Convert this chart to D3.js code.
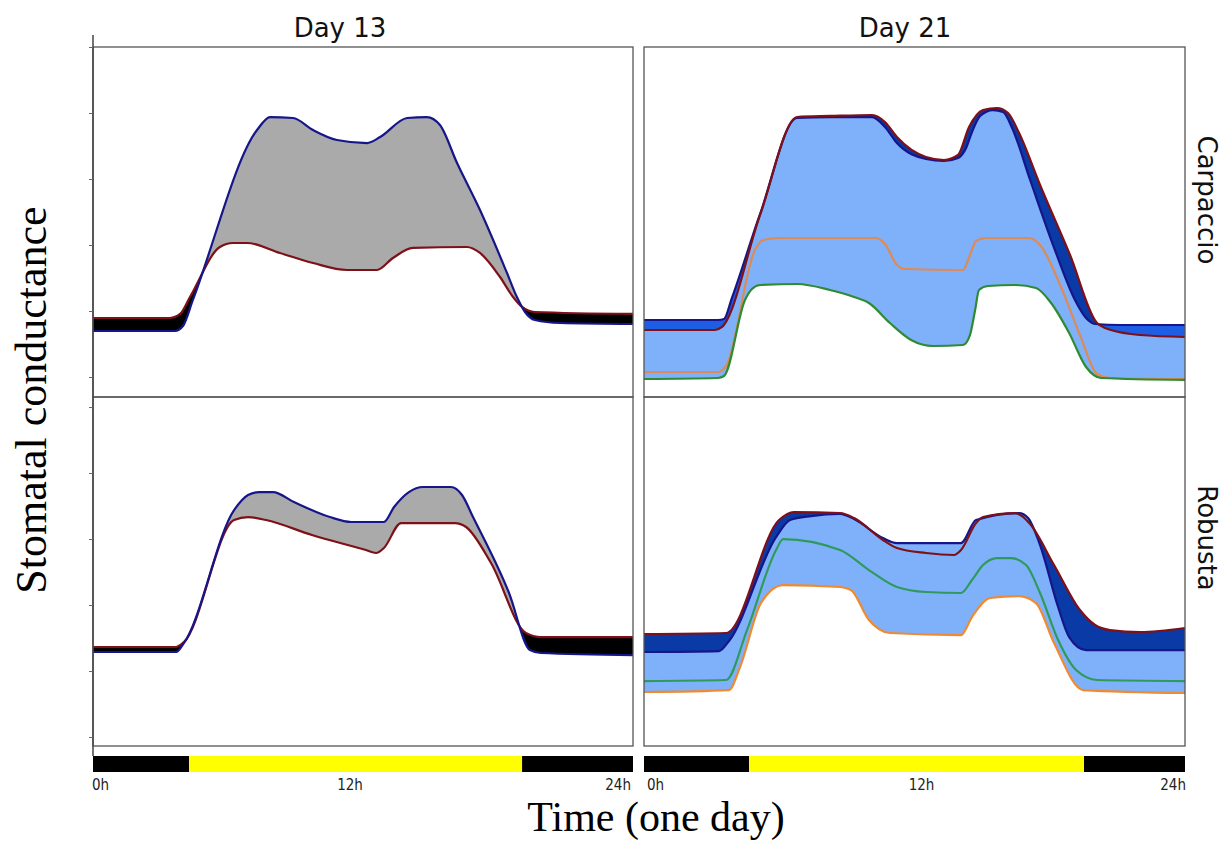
<!DOCTYPE html>
<html><head><meta charset="utf-8">
<script src="https://cdn.jsdelivr.net/npm/d3@7"></script>
<style>body{margin:0;background:#fff}svg{display:block}</style>
</head><body>
<svg id="c" width="1230" height="842"></svg>
<script>
// ---------------- data ----------------
const days = ["Day 13", "Day 21"];
const cultivars = ["Carpaccio", "Robusta"];
const hourTicks = [0, 12, 24];
const hourLabels = ["0h", "12h", "24h"];
const lightsOn = [4.27, 4.66];    // hour lights switch on (Day 13, Day 21)
const lightsOff = [19.07, 19.52]; // hour lights switch off
const yTicks = [0, 10, 20, 30, 40, 50];

// Day 13, Carpaccio  [hour, conductance (a.u.)]
const d13CarpRed = [[0,8.94],[3.42,8.94],[3.87,9.55],[4.31,12.12],[5.64,19.7],[6.22,20.3],[6.84,20.3],[8.31,18.79],[9.78,17.27],[11.29,16.21],[12.62,16.21],[13.33,18.03],[14.22,19.55],[16.62,19.7],[17.2,18.79],[18.09,15.15],[18.67,12.12],[19.07,10.61],[19.64,9.85],[24,9.55]];
const d13CarpBlue = [[0,6.97],[3.64,6.97],[4.0,7.73],[4.44,11.67],[7.29,37.42],[7.87,39.39],[8.89,39.24],[9.78,37.42],[10.84,35.91],[12.18,35.45],[12.76,36.36],[13.96,39.24],[14.84,39.39],[15.42,38.18],[16.18,32.42],[17.2,25.3],[18.4,15.76],[18.84,12.12],[19.2,9.85],[19.64,8.64],[20.76,8.18],[24,8.03]];

// Day 13, Robusta
const d13RobRed = [[0,13.64],[3.69,13.64],[4.04,14.39],[6.27,32.88],[6.89,33.33],[7.69,32.88],[9.73,30.61],[12.13,28.33],[12.58,27.88],[12.93,28.64],[13.69,32.42],[16.09,32.42],[16.58,31.82],[17.69,26.36],[19.24,15.76],[19.91,15.15],[24,15.15]];
const d13RobBlue = [[0,12.88],[3.69,12.88],[4.04,14.24],[6.27,34.39],[6.89,36.67],[7.38,37.12],[8.0,37.12],[8.93,35.61],[10.53,33.33],[11.47,32.58],[12.93,32.58],[13.38,34.85],[14.04,37.12],[14.67,37.88],[15.91,37.88],[16.4,36.67],[16.89,33.33],[18.49,21.82],[19.42,13.18],[19.91,12.73],[24,12.42]];

// Day 21, Carpaccio
const d21CarpRed = [[0,7.12],[3.15,7.12],[3.46,7.58],[5.15,24.55],[6.79,39.39],[8.25,39.55],[10.12,39.7],[10.69,38.64],[11.22,36.36],[12.51,33.33],[13.31,32.88],[13.93,33.64],[14.42,37.88],[15.04,40.45],[15.66,40.76],[16.15,40.0],[16.64,36.97],[17.57,29.09],[18.9,18.48],[20.1,8.18],[20.72,7.12],[22.01,6.36],[24,6.06]];
const d21CarpBlue = [[0,8.64],[3.28,8.64],[3.55,8.79],[3.9,11.97],[5.15,24.7],[6.79,39.24],[8.25,39.39],[10.12,39.39],[10.69,37.88],[11.22,35.45],[12.51,33.03],[13.31,32.73],[13.93,33.18],[14.29,34.7],[14.55,37.12],[14.91,39.55],[15.48,40.45],[15.93,40.15],[16.33,37.73],[17.13,29.85],[18.23,19.24],[19.12,11.67],[19.61,8.94],[20.01,8.03],[21.12,7.88],[24,7.88]];
const d21CarpOrange = [[0,0.76],[3.28,0.76],[3.64,1.67],[4.92,19.24],[5.28,20.76],[6.03,21.06],[10.29,21.06],[10.69,20.15],[11.22,16.97],[11.58,16.36],[14.15,16.21],[14.46,18.48],[14.73,20.61],[15.13,21.06],[17.08,21.06],[17.57,20.0],[18.46,13.94],[19.34,6.36],[20.1,0.45],[20.67,-0.15],[24,-0.3]];
const d21CarpGreen = [[0,-0.3],[3.28,-0.15],[3.55,0.15],[4.48,11.67],[4.79,13.33],[5.15,13.94],[6.79,14.09],[8.25,13.18],[9.32,12.12],[9.98,11.21],[10.91,8.18],[11.85,5.61],[12.82,4.7],[14.15,4.85],[14.46,6.36],[14.69,10.15],[14.86,13.18],[15.26,13.79],[16.46,13.94],[17.39,13.48],[18.06,11.21],[18.86,6.67],[19.61,1.52],[20.28,-0.15],[24,-0.45]];

// Day 21, Robusta
const d21RobRed = [[0,15.61],[3.64,15.76],[5.99,32.88],[6.65,34.09],[8.7,33.94],[9.32,33.18],[10.6,29.85],[11.22,28.64],[12.51,27.88],[13.75,27.58],[14.06,28.33],[14.73,32.42],[15.04,33.33],[16.46,33.94],[16.77,33.48],[17.13,32.27],[18.19,26.06],[19.34,19.24],[20.01,16.97],[20.67,16.21],[22.01,15.91],[24,16.52]];
const d21RobBlue = [[0,12.88],[3.33,13.03],[3.77,14.55],[5.86,30.3],[6.48,32.88],[7.41,33.48],[8.7,33.79],[9.32,33.03],[10.6,30.15],[11.22,29.39],[14.06,29.39],[14.73,32.88],[16.64,33.94],[17.04,33.18],[17.57,29.09],[18.37,19.7],[18.86,15.15],[19.61,13.18],[24,13.18]];
const d21RobGreen = [[0,8.48],[3.64,8.64],[4.57,16.21],[5.86,28.33],[6.17,30.0],[8.7,28.33],[9.98,25.3],[11.22,22.73],[12.51,21.97],[14.06,21.82],[14.55,23.79],[15.04,26.06],[15.66,27.12],[16.28,27.12],[16.95,26.06],[17.57,21.82],[18.37,14.7],[19.17,10.15],[20.1,8.64],[24,8.48]];
const d21RobOrange = [[0,6.82],[3.77,7.12],[4.26,10.61],[5.19,20.3],[6.17,23.03],[8.7,22.73],[9.18,22.27],[9.98,17.73],[10.91,15.76],[14.06,15.45],[14.55,18.18],[15.35,21.06],[16.64,21.36],[17.39,20.3],[18.19,14.24],[19.48,7.12],[24,6.67]];

// ---------------- layout ----------------
const svg = d3.select("#c");
const colX = [[93, 633], [644, 1185]];
const rowY = [[47, 397], [397, 746]];
const rowDomain = [[-3.03, 50], [-1.36, 51.52]];
const curve = d3.curveMonotoneX;

const xs = colX.map(r => d3.scaleLinear().domain([0, 24]).range(r));
const ys = rowY.map((r, i) => d3.scaleLinear().domain(rowDomain[i]).range([r[1], r[0]]));

const panels = [
  {c:0, r:0, red:d13CarpRed, blue:d13CarpBlue, extras:[], lowest:null,
   blueAbove:"#aaaaaa", redAbove:"#000000", light:null, redLast:false},
  {c:0, r:1, red:d13RobRed, blue:d13RobBlue, extras:[], lowest:null,
   blueAbove:"#aaaaaa", redAbove:"#000000", light:null, redLast:false},
  {c:1, r:0, red:d21CarpRed, blue:d21CarpBlue,
   extras:[{d:d21CarpOrange, col:"#dd8a55"}, {d:d21CarpGreen, col:"#2e8b34"}],
   lowest:d21CarpGreen, blueAbove:"#1e5ee4", redAbove:"#0a3aa6", light:"#7fb1fb", redLast:true},
  {c:1, r:1, red:d21RobRed, blue:d21RobBlue,
   extras:[{d:d21RobGreen, col:"#2f9a5c"}, {d:d21RobOrange, col:"#ef8a30"}],
   lowest:d21RobOrange, blueAbove:"#7fb1fb", redAbove:"#0a3aa6", light:"#7fb1fb", redLast:true}
];

const defs = svg.append("defs");

panels.forEach((p, i) => {
  const x = xs[p.c], y = ys[p.r];
  const [x0, x1] = colX[p.c], [top, bot] = rowY[p.r];
  const g = svg.append("g");
  const areaTo = (data, base) => d3.area().x(d => x(d[0])).y0(base).y1(d => y(d[1])).curve(curve)(data);
  const line = d3.line().x(d => x(d[0])).y(d => y(d[1])).curve(curve);

  defs.append("clipPath").attr("id", "pc" + i).append("rect")
    .attr("x", x0).attr("y", top).attr("width", x1 - x0).attr("height", bot - top);
  const mk = (id, d) => defs.append("clipPath").attr("id", id).append("path").attr("d", d);
  mk("aboveRed" + i, areaTo(p.red, top));
  mk("aboveBlue" + i, areaTo(p.blue, top));
  if (p.lowest) mk("aboveLow" + i, areaTo(p.lowest, top));

  const inner = g.append("g").attr("clip-path", `url(#pc${i})`);
  if (p.light) {
    inner.append("path").attr("d", areaTo(p.red, bot)).attr("fill", p.light)
      .attr("clip-path", `url(#aboveLow${i})`);
    inner.append("path").attr("d", areaTo(p.blue, bot)).attr("fill", p.light)
      .attr("clip-path", `url(#aboveLow${i})`);
  }
  inner.append("path").attr("d", areaTo(p.blue, bot)).attr("fill", p.blueAbove)
    .attr("clip-path", `url(#aboveRed${i})`);
  inner.append("path").attr("d", areaTo(p.red, bot)).attr("fill", p.redAbove)
    .attr("clip-path", `url(#aboveBlue${i})`);

  p.extras.forEach(e => inner.append("path").attr("d", line(e.d)).attr("fill", "none")
    .attr("stroke", e.col).attr("stroke-width", 2.2));
  const redL = () => inner.append("path").attr("d", line(p.red)).attr("fill", "none")
    .attr("stroke", "#7e1018").attr("stroke-width", 2.2);
  const blueL = () => inner.append("path").attr("d", line(p.blue)).attr("fill", "none")
    .attr("stroke", "#16168a").attr("stroke-width", 2.2);
  if (p.redLast) { blueL(); redL(); } else { redL(); blueL(); }

  g.append("rect").attr("x", x0).attr("y", top).attr("width", x1 - x0).attr("height", bot - top)
    .attr("fill", "none").attr("stroke", "#555").attr("stroke-width", 1.3);
});

// left y axis (no labels)
svg.append("line").attr("x1", 93).attr("x2", 93).attr("y1", 35).attr("y2", 756)
  .attr("stroke", "#444").attr("stroke-width", 1.5);
ys.forEach(y => {
  svg.append("g").attr("transform", "translate(93,0)")
    .call(d3.axisLeft(y).tickValues(yTicks).tickSize(4).tickSizeOuter(0).tickFormat(""))
    .call(a => a.select(".domain").remove())
    .selectAll("line").attr("stroke", "#666");
});

// light/dark bars
const barTop = 756, barH = 16;
const labelDx = [[-1, -13, -2], [3, 7, 1]];
[0, 1].forEach(c => {
  const x = xs[c];
  const segs = [[0, lightsOn[c], "#000"], [lightsOn[c], lightsOff[c], "#ffff00"], [lightsOff[c], 24, "#000"]];
  svg.selectAll(null).data(segs).enter().append("rect")
    .attr("x", d => x(d[0])).attr("width", d => x(d[1]) - x(d[0]))
    .attr("y", barTop).attr("height", barH).attr("fill", d => d[2]);
  svg.selectAll(null).data(hourTicks).enter().append("text")
    .attr("x", (d, i) => x(d) + labelDx[c][i]).attr("y", 790)
    .attr("text-anchor", (d, i) => ["start", "middle", "end"][i])
    .attr("font-family", "'DejaVu Sans Condensed', 'DejaVu Sans'").attr("font-stretch", "condensed")
    .attr("font-size", 15).attr("fill", "#222")
    .text((d, i) => hourLabels[i]);
});

// titles
svg.selectAll(null).data(days).enter().append("text")
  .attr("x", (d, i) => [340, 905][i]).attr("y", 37)
  .attr("text-anchor", "middle").attr("font-family", "DejaVu Sans").attr("font-size", 26)
  .attr("fill", "#111").text(d => d);
svg.selectAll(null).data(cultivars).enter().append("text")
  .attr("transform", (d, i) => `translate(1198,${[200, 538][i]}) rotate(90)`)
  .attr("text-anchor", "middle").attr("font-family", "DejaVu Sans").attr("font-size", 26)
  .attr("fill", "#111").text(d => d);

svg.append("text").attr("transform", "translate(46,400) rotate(-90)")
  .attr("text-anchor", "middle").attr("font-family", "Liberation Serif").attr("font-size", 44)
  .attr("fill", "#000").text("Stomatal conductance");
svg.append("text").attr("x", 656).attr("y", 831)
  .attr("text-anchor", "middle").attr("font-family", "Liberation Serif").attr("font-size", 42)
  .attr("fill", "#000").text("Time (one day)");
</script>
</body></html>
